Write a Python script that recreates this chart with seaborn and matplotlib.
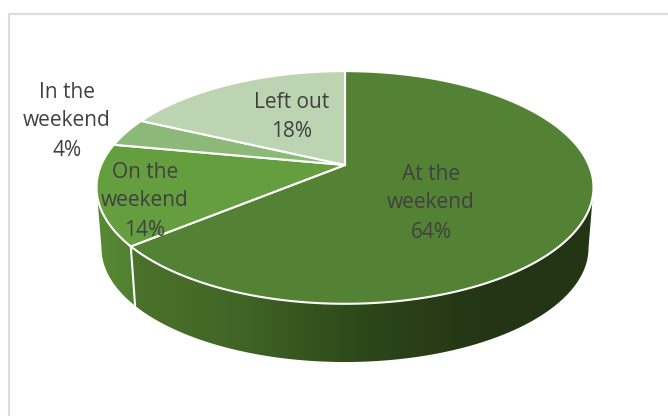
import matplotlib.pyplot as plt
import numpy as np
import seaborn as sns
from matplotlib.colors import to_rgb
from matplotlib.patches import Polygon

categories = ["At the\nweekend", "On the\nweekend", "In the\nweekend", "Left out"]
shares = [64, 14, 4, 18]

top_colors = ["#548235", "#659e3f", "#8cb978", "#bcd4b1"]
wall_at = sns.blend_palette(["#4c732b", "#3f6325", "#2d4719", "#243616", "#233515"], 200)
wall_on = sns.blend_palette(["#578a35", "#4f7f30"], 50)

# where the labels sit, in pixels
label_xy = [(431, 203), (145, 201), (67, 121), (292, 117)]

# perspective of the disc, in pixels
apex_x, apex_y = 345, 165
rad_x, rad_y = 243.8, 112
tilt = 0.193
shrink, drop = 0.98, 61
# the disc is widest here, so the wall has to start and end at these angles
widest = np.arccos(-tilt)


def rim(theta, lower=False):
    # theta runs clockwise from 12 o'clock
    w = 1 + tilt * np.cos(theta)
    x = rad_x * np.sin(theta) / w
    y = rad_y * np.cos(theta) / w
    if lower:
        return apex_x + shrink * x, apex_y - shrink * y + drop
    return apex_x + x, apex_y - y


def draw_wall(ax, start, stop, palette):
    # horizontal gradient clipped to the strip between the two rims
    t = np.linspace(start, stop, 200)
    ux, uy = rim(t)
    lx, ly = rim(t, lower=True)
    outline = np.c_[np.r_[ux, lx[::-1]], np.r_[uy, ly[::-1]]]
    shape = Polygon(outline, closed=True, transform=ax.transData, fc="none", ec="none")
    ax.add_patch(shape)
    pixels = np.array([[to_rgb(c) for c in palette]])
    im = ax.imshow(
        pixels,
        extent=(outline[:, 0].min(), outline[:, 0].max(), outline[:, 1].max(), outline[:, 1].min()),
        aspect="auto",
        interpolation="bilinear",
        zorder=1,
    )
    im.set_clip_path(shape)


sns.set_theme(style="white")
plt.rcParams["font.family"] = ["Open Sans", "DejaVu Sans"]

fig = plt.figure(figsize=(6.68, 4.16), dpi=100)
ax = fig.add_axes([0, 0, 1, 1])

# chart frame, only top and left are inside the crop
ax.plot([8.5, 8.5, 668], [416, 13.5, 13.5], color="#dcdcdc", lw=1.6, zorder=0)

edges = np.deg2rad(np.cumsum([0] + shares) * 3.6)
front_end = edges[1]

draw_wall(ax, widest, front_end, wall_at)
draw_wall(ax, front_end, 2 * np.pi - widest, wall_on)

# white seam down the wall between the two front slices
ux, uy = rim(front_end)
lx, ly = rim(front_end, lower=True)
ax.plot([ux, lx], [uy, ly], color="white", lw=1.5, zorder=2)

# top face
for start, stop, color in zip(edges[:-1], edges[1:], top_colors):
    t = np.linspace(start, stop, 200)
    x, y = rim(t)
    ax.fill(
        np.r_[apex_x, x],
        np.r_[apex_y, y],
        facecolor=color,
        edgecolor="white",
        lw=1.5,
        joinstyle="miter",
        zorder=3,
    )

for name, share, (x, y) in zip(categories, shares, label_xy):
    ax.text(
        x,
        y,
        f"{name}\n{share}%",
        ha="center",
        va="center",
        fontsize=15,
        color="#404040",
        linespacing=1.5,
        zorder=4,
    )

ax.set(xlim=(0, 668), ylim=(416, 0), aspect="auto")
ax.axis("off")

fig.savefig("out.png", dpi=100)
